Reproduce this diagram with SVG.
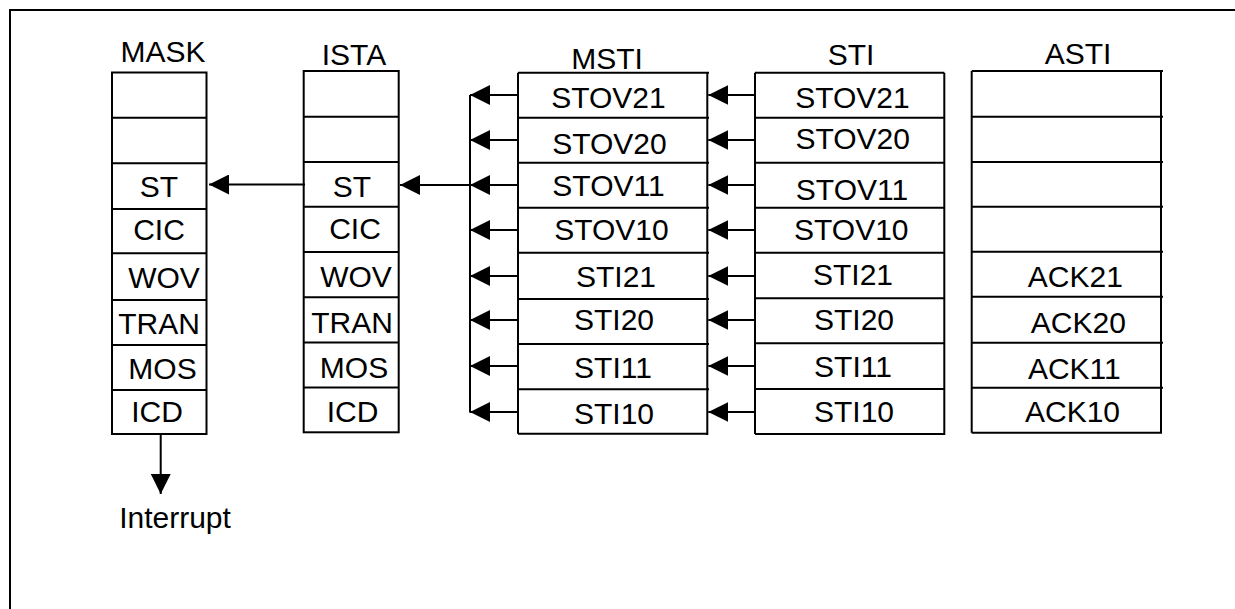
<svg xmlns="http://www.w3.org/2000/svg" width="1235" height="609" viewBox="0 0 1235 609">
<style>
.box{fill:#fff;stroke:#000;stroke-width:2}
.ln{stroke:#000;stroke-width:2;fill:none}
text{font-family:"Liberation Sans",Arial,sans-serif;font-size:30px;fill:#000;text-anchor:middle}
</style>
<defs>
<marker id="arr" markerUnits="userSpaceOnUse" markerWidth="20" markerHeight="20" viewBox="0 0 20 20" refX="20" refY="10" orient="auto">
<path d="M0,0 L20,10 L0,20 Z" fill="#000"/>
</marker>
</defs>
<path class="ln" d="M10,609V10H1235"/>

<g id="mask">
<text x="163" y="62">MASK</text>
<rect class="box" x="112" y="72.5" width="94.5" height="361.5"/>
<path class="ln" d="M112,117.7H206.5M112,163.3H206.5M112,209H206.5M112,253.3H206.5M112,300H206.5M112,345H206.5M112,390H206.5"/>
<text x="159" y="197">ST</text>
<text x="159" y="240">CIC</text>
<text x="164" y="288">WOV</text>
<text x="159" y="334">TRAN</text>
<text x="162.5" y="379">MOS</text>
<text x="157" y="422">ICD</text>
</g>

<g id="ista">
<text x="354" y="65">ISTA</text>
<rect class="box" x="303.7" y="71" width="95" height="361.3"/>
<path class="ln" d="M303.7,116.7H398.7M303.7,162H398.7M303.7,206.7H398.7M303.7,252H398.7M303.7,297.3H398.7M303.7,342.5H398.7M303.7,387.5H398.7"/>
<text x="352" y="197">ST</text>
<text x="355" y="238.5">CIC</text>
<text x="356" y="287">WOV</text>
<text x="352" y="332.5">TRAN</text>
<text x="354" y="377.5">MOS</text>
<text x="352.5" y="422">ICD</text>
</g>

<g id="msti">
<text x="607" y="69">MSTI</text>
<path class="ln" d="M518,72.7H709M518,117.7H709M518,162.7H709M518,207.7H709M518,252.7H709M518,299H709M518,344H709M518,389.3H709M518,433.7H707.3M518,72.7V433.7M707.3,72.7V435"/>
<text x="608.5" y="107.5">STOV21</text>
<text x="609.5" y="153.5">STOV20</text>
<text x="608.5" y="196">STOV11</text>
<text x="611.5" y="240">STOV10</text>
<text x="616" y="287">STI21</text>
<text x="614" y="330">STI20</text>
<text x="613" y="377.5">STI11</text>
<text x="614" y="423.5">STI10</text>
</g>

<g id="sti">
<text x="851" y="65">STI</text>
<path class="ln" d="M755,72.7H944.3M755,117.7H944.3M755,162.7H944.3M755,207.7H944.3M755,252.7H944.3M755,298.3H944.3M755,343.3H944.3M755,389H944.3M755,434H944.3M755,72.7V434M944.3,72.7V435"/>
<text x="852.5" y="108">STOV21</text>
<text x="852.7" y="149">STOV20</text>
<text x="852" y="199.5">STOV11</text>
<text x="851.3" y="240">STOV10</text>
<text x="853" y="285">STI21</text>
<text x="854" y="330">STI20</text>
<text x="853" y="377">STI11</text>
<text x="854" y="422">STI10</text>
</g>

<g id="asti">
<text x="1078" y="64">ASTI</text>
<path class="ln" d="M971.7,71H1163M971.7,116.7H1163M971.7,162H1163M971.7,206.7H1163M971.7,251.7H1163M971.7,296.7H1163M971.7,342.7H1163M971.7,387.7H1163M971.7,432.7H1161M971.7,71V432.7M1161,71V433.7"/>
<text x="1075.3" y="287">ACK21</text>
<text x="1078.3" y="333">ACK20</text>
<text x="1074.3" y="378.5">ACK11</text>
<text x="1072.5" y="422">ACK10</text>
</g>

<g id="interrupt">
<text x="175" y="528">Interrupt</text>
</g>

<g id="connectors">
<path class="ln" d="M470,95V412.5"/>
<path class="ln" marker-end="url(#arr)" d="M518,95H470"/>
<path class="ln" marker-end="url(#arr)" d="M518,140H470"/>
<path class="ln" marker-end="url(#arr)" d="M518,185H470"/>
<path class="ln" marker-end="url(#arr)" d="M518,230H470"/>
<path class="ln" marker-end="url(#arr)" d="M518,276H470"/>
<path class="ln" marker-end="url(#arr)" d="M518,320H470"/>
<path class="ln" marker-end="url(#arr)" d="M518,366H470"/>
<path class="ln" marker-end="url(#arr)" d="M518,412H470"/>
<path class="ln" marker-end="url(#arr)" d="M755,95H708.3"/>
<path class="ln" marker-end="url(#arr)" d="M755,140H708.3"/>
<path class="ln" marker-end="url(#arr)" d="M755,185H708.3"/>
<path class="ln" marker-end="url(#arr)" d="M755,230H708.3"/>
<path class="ln" marker-end="url(#arr)" d="M755,276H708.3"/>
<path class="ln" marker-end="url(#arr)" d="M755,320H708.3"/>
<path class="ln" marker-end="url(#arr)" d="M755,366H708.3"/>
<path class="ln" marker-end="url(#arr)" d="M755,412H708.3"/>
<path class="ln" marker-end="url(#arr)" d="M470,185H400"/>
<path class="ln" marker-end="url(#arr)" d="M305,184.5H209"/>
<path class="ln" marker-end="url(#arr)" d="M160.7,434V494"/>
</g>
</svg>
